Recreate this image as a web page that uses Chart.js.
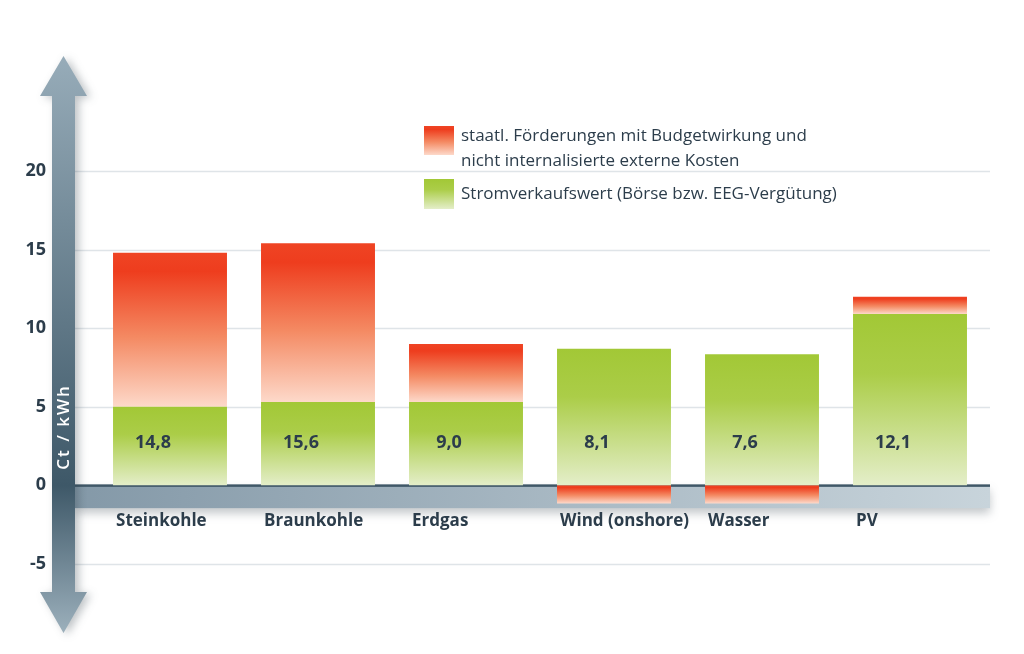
<!DOCTYPE html>
<html>
<head>
<meta charset="utf-8">
<script src="https://cdn.jsdelivr.net/npm/chart.js@4.4.0/dist/chart.umd.min.js"></script>
<style>
    html, body { margin: 0; padding: 0; background: #ffffff; }
    #wrap { width: 1024px; height: 654px; }
</style>
</head>
<body>
<div id="wrap"><canvas id="chart" width="1024" height="654"></canvas></div>
<script>
// values (Ct / kWh)
const categories = ['Steinkohle', 'Braunkohle', 'Erdgas', 'Wind (onshore)', 'Wasser', 'PV'];
const marketValue = [5.0, 5.3, 5.3, 8.7, 8.35, 10.9];
const subsidies = [9.8, 10.1, 3.7, -1.15, -1.15, 1.1];
const totalLabels = ['14,8', '15,6', '9,0', '8,1', '7,6', '12,1'];
const yTicks = [-5, 0, 5, 10, 15, 20];

const legendLabels = [
    ['staatl. Förderungen mit Budgetwirkung und', 'nicht internalisierte externe Kosten'],
    ['Stromverkaufswert (Börse bzw. EEG-Vergütung)']
];

const TEXT = '#2c3d4b';
const FONT = '"Open Sans", "DejaVu Sans", sans-serif';

function redGradient(ctx, top, bottom) {
    const g = ctx.createLinearGradient(0, top, 0, bottom);
    g.addColorStop(0, '#ef4424');
    g.addColorStop(0.12, '#ee3d1e');
    g.addColorStop(0.55, '#f48a63');
    g.addColorStop(1, '#fdd9ca');
    return g;
}

function greenGradient(ctx, top, bottom) {
    const g = ctx.createLinearGradient(0, top, 0, bottom);
    g.addColorStop(0, '#a2c836');
    g.addColorStop(0.35, '#abcd48');
    g.addColorStop(1, '#e4eec9');
    return g;
}

function segmentFill(kind) {
    return function(context) {
        const chart = context.chart;
        const y = chart.scales.y;
        if (!chart.chartArea || !y) {
            return kind === 'red' ? '#f05a36' : '#a8cc44';
        }
        const i = context.dataIndex;
        let lo, hi;
        if (kind === 'green') {
            lo = 0;
            hi = marketValue[i];
        } else if (subsidies[i] >= 0) {
            lo = marketValue[i];
            hi = marketValue[i] + subsidies[i];
        } else {
            lo = subsidies[i];
            hi = 0;
        }
        const top = y.getPixelForValue(hi);
        const bottom = y.getPixelForValue(lo);
        return kind === 'red'
            ? redGradient(chart.ctx, top, bottom)
            : greenGradient(chart.ctx, top, bottom);
    };
}

// grid lines, the grey zero band and the vertical double arrow
const backdropPlugin = {
    id: 'backdrop',
    beforeDatasetsDraw(chart) {
        const ctx = chart.ctx;
        const y = chart.scales.y;
        const gridLeft = 75, gridRight = 990;

        ctx.save();
        ctx.strokeStyle = '#dfe4e8';
        ctx.lineWidth = 1.5;
        yTicks.forEach(v => {
            if (v === 0) return;
            const py = Math.round(y.getPixelForValue(v)) + 0.5;
            ctx.beginPath();
            ctx.moveTo(gridLeft, py);
            ctx.lineTo(gridRight, py);
            ctx.stroke();
        });

        // zero band
        const bTop = y.getPixelForValue(0);
        const bBottom = y.getPixelForValue(-1.45);
        const band = ctx.createLinearGradient(gridLeft, 0, gridRight, 0);
        band.addColorStop(0, '#8499a8');
        band.addColorStop(1, '#c8d4db');
        ctx.shadowColor = 'rgba(40, 55, 65, 0.28)';
        ctx.shadowBlur = 10;
        ctx.shadowOffsetY = 5;
        ctx.fillStyle = band;
        ctx.fillRect(gridLeft, bTop, gridRight - gridLeft, bBottom - bTop);
        ctx.shadowColor = 'transparent';
        ctx.fillStyle = '#3f5767';
        ctx.fillRect(gridLeft, bTop - 1, gridRight - gridLeft, 2.5);

        // vertical double arrow
        const cx = 63.5, half = 11.5, headHalf = 23.5;
        const tipTop = 56, baseTop = 96, baseBottom = 592, tipBottom = 633;
        const zeroPos = (bTop - tipTop) / (tipBottom - tipTop);
        const shaft = ctx.createLinearGradient(0, tipTop, 0, tipBottom);
        shaft.addColorStop(0, '#97acb9');
        shaft.addColorStop(zeroPos, '#3e5868');
        shaft.addColorStop(1, '#9cb0bc');
        ctx.beginPath();
        ctx.moveTo(cx, tipTop);
        ctx.lineTo(cx + headHalf, baseTop);
        ctx.lineTo(cx + half, baseTop);
        ctx.lineTo(cx + half, baseBottom);
        ctx.lineTo(cx + headHalf, baseBottom);
        ctx.lineTo(cx, tipBottom);
        ctx.lineTo(cx - headHalf, baseBottom);
        ctx.lineTo(cx - half, baseBottom);
        ctx.lineTo(cx - half, baseTop);
        ctx.lineTo(cx - headHalf, baseTop);
        ctx.closePath();
        ctx.shadowColor = 'rgba(40, 55, 65, 0.3)';
        ctx.shadowBlur = 8;
        ctx.shadowOffsetX = 4;
        ctx.shadowOffsetY = 2;
        ctx.fillStyle = shaft;
        ctx.fill();
        ctx.restore();

        // tick labels
        ctx.save();
        ctx.fillStyle = TEXT;
        ctx.font = 'bold 18px ' + FONT;
        ctx.textAlign = 'right';
        ctx.textBaseline = 'middle';
        yTicks.forEach(v => {
            ctx.fillText(String(v), 46, y.getPixelForValue(v));
        });

        // axis title
        ctx.translate(cx, 427);
        ctx.rotate(-Math.PI / 2);
        ctx.fillStyle = '#ffffff';
        ctx.font = '600 17px ' + FONT;
        ctx.letterSpacing = '2px';
        ctx.textAlign = 'center';
        ctx.fillText('Ct / kWh', 0, 1);
        ctx.restore();
    },
    afterDatasetsDraw(chart) {
        const ctx = chart.ctx;
        const y = chart.scales.y;
        const meta = chart.getDatasetMeta(0);

        ctx.save();
        ctx.fillStyle = TEXT;
        ctx.textBaseline = 'middle';
        meta.data.forEach((bar, i) => {
            const left = bar.x - bar.width / 2;
            ctx.font = 'bold 18px ' + FONT;
            ctx.textAlign = 'center';
            ctx.fillText(totalLabels[i], left + 40, y.getPixelForValue(2.7));
            ctx.font = 'bold 17px ' + FONT;
            ctx.textAlign = 'left';
            ctx.fillText(categories[i], left + 3, 521);
        });

        // legend
        const boxX = 424, boxW = 30;
        ctx.fillStyle = redGradient(ctx, 126, 155);
        ctx.fillRect(boxX, 126, boxW, 29);
        ctx.fillStyle = greenGradient(ctx, 179, 209);
        ctx.fillRect(boxX, 179, boxW, 30);
        ctx.fillStyle = TEXT;
        ctx.font = '17px ' + FONT;
        ctx.textAlign = 'left';
        ctx.fillText(legendLabels[0][0], 461, 136);
        ctx.fillText(legendLabels[0][1], 461, 161);
        ctx.fillText(legendLabels[1][0], 461, 194);
        ctx.restore();
    }
};

new Chart(document.getElementById('chart'), {
    type: 'bar',
    data: {
        labels: categories,
        datasets: [{
            label: legendLabels[1][0],
            data: marketValue,
            backgroundColor: segmentFill('green'),
            borderWidth: 0,
            stack: 'main'
        }, {
            label: legendLabels[0].join(' '),
            data: subsidies,
            backgroundColor: segmentFill('red'),
            borderWidth: 0,
            stack: 'main'
        }]
    },
    options: {
        responsive: false,
        animation: false,
        devicePixelRatio: 1,
        layout: {
            padding: { left: 96, right: 40, top: 92.5, bottom: 11.5 }
        },
        datasets: {
            bar: { categoryPercentage: 1, barPercentage: 0.77 }
        },
        plugins: {
            legend: { display: false },
            tooltip: { enabled: false }
        },
        scales: {
            x: { display: false, stacked: true },
            y: {
                display: false,
                stacked: true,
                min: -10,
                max: 25,
                ticks: { stepSize: 5 }
            }
        }
    },
    plugins: [backdropPlugin]
});
</script>
</body>
</html>
